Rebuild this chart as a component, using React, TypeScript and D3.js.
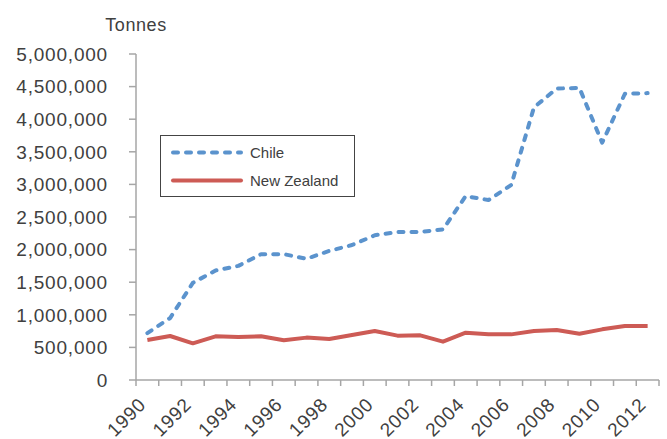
import { useEffect, useRef } from 'react';
import * as d3 from 'd3';

const years = d3.range(1990, 2013).map(String);
const chile = [
  720000, 950000, 1490000, 1680000, 1750000, 1930000, 1930000, 1860000, 1980000, 2070000,
  2220000, 2270000, 2270000, 2310000, 2820000, 2760000, 2990000, 4180000, 4470000, 4480000,
  3640000, 4390000, 4400000,
];
const newZealand = [
  613000, 675000, 563000, 670000, 660000, 670000, 609000, 650000, 629000, 690000,
  752000, 680000, 685000, 588000, 726000, 700000, 700000, 752000, 767000, 710000,
  777000, 828000, 828000,
];
const yTicks = d3.range(0, 5000001, 500000);

const W = 667;
const H = 439;
const FONT = '"Liberation Sans", Arial, sans-serif';

const App = () => {
  const ref = useRef<SVGSVGElement>(null);

  useEffect(() => {
    if (!ref.current) return;
    const svg = d3.select(ref.current);
    svg.selectAll('*').remove();

    const left = 136, right = 659, top = 54, bottom = 380;
    const x = d3.scaleBand().domain(years).range([left, right]);
    const y = d3.scaleLinear().domain([0, 5000000]).range([bottom, top]);
    const grey = '#a6a6a6';
    const textCol = '#404040';

    // y axis
    svg.append('line').attr('x1', left).attr('x2', left).attr('y1', top).attr('y2', bottom)
      .attr('stroke', grey).attr('stroke-width', 1.5);
    yTicks.forEach((t) => {
      svg.append('line').attr('x1', left - 7).attr('x2', left).attr('y1', y(t)).attr('y2', y(t))
        .attr('stroke', grey).attr('stroke-width', 1.5);
      svg.append('text').attr('x', 108).attr('y', y(t)).attr('dy', '0.36em')
        .attr('text-anchor', 'end').attr('font-family', FONT).attr('font-size', 19)
        .attr('letter-spacing', 0.8).attr('fill', textCol).text(t === 0 ? '0' : d3.format(',')(t));
    });
    svg.append('text').attr('x', 136).attr('y', 31).attr('text-anchor', 'middle')
      .attr('font-family', FONT).attr('font-size', 18).attr('letter-spacing', 0.6)
      .attr('fill', textCol).text('Tonnes');

    // x axis
    svg.append('line').attr('x1', left).attr('x2', right).attr('y1', bottom).attr('y2', bottom)
      .attr('stroke', grey).attr('stroke-width', 1.5);
    [...years.map((d) => x(d)!), right].forEach((px) => {
      svg.append('line').attr('x1', px).attr('x2', px).attr('y1', bottom).attr('y2', bottom + 6)
        .attr('stroke', grey).attr('stroke-width', 1.5);
    });
    years.forEach((d, i) => {
      if (i % 2 !== 0) return;
      const cx = x(d)! + x.bandwidth() / 2 - 5;
      svg.append('text').attr('transform', `translate(${cx},${bottom + 21}) rotate(-45)`)
        .attr('text-anchor', 'end').attr('dy', '0.35em').attr('font-family', FONT).attr('font-size', 19)
        .attr('letter-spacing', 0.8).attr('fill', textCol).text(d);
    });

    const line = d3.line<number>()
      .x((_, i) => x(years[i])! + x.bandwidth() / 2)
      .y((v) => y(v));

    svg.append('path').datum(newZealand).attr('d', line).attr('fill', 'none')
      .attr('stroke', '#cd5b55').attr('stroke-width', 4).attr('stroke-linejoin', 'round');
    svg.append('path').datum(chile).attr('d', line).attr('fill', 'none')
      .attr('stroke', '#5b93cd').attr('stroke-width', 4).attr('stroke-linecap', 'round')
      .attr('stroke-dasharray', '5,8').attr('stroke-linejoin', 'round');

    // legend
    const lg = svg.append('g');
    lg.append('rect').attr('x', 160.5).attr('y', 135.5).attr('width', 194).attr('height', 61)
      .attr('fill', 'white').attr('stroke', '#444').attr('stroke-width', 1);
    lg.append('line').attr('x1', 173).attr('x2', 241).attr('y1', 152.5).attr('y2', 152.5)
      .attr('stroke', '#5b93cd').attr('stroke-width', 4).attr('stroke-linecap', 'round')
      .attr('stroke-dasharray', '5,8');
    lg.append('line').attr('x1', 173).attr('x2', 241).attr('y1', 180.5).attr('y2', 180.5)
      .attr('stroke', '#cd5b55').attr('stroke-width', 4).attr('stroke-linecap', 'round');
    lg.append('text').attr('x', 250).attr('y', 152.5).attr('dy', '0.36em').attr('font-family', FONT)
      .attr('font-size', 15).attr('fill', textCol).text('Chile');
    lg.append('text').attr('x', 250).attr('y', 180.5).attr('dy', '0.36em').attr('font-family', FONT)
      .attr('font-size', 15).attr('fill', textCol).text('New Zealand');
  }, []);

  return <svg ref={ref} width={W} height={H} style={{ position: 'absolute', left: 0, top: 0 }} />;
};

export default App;
